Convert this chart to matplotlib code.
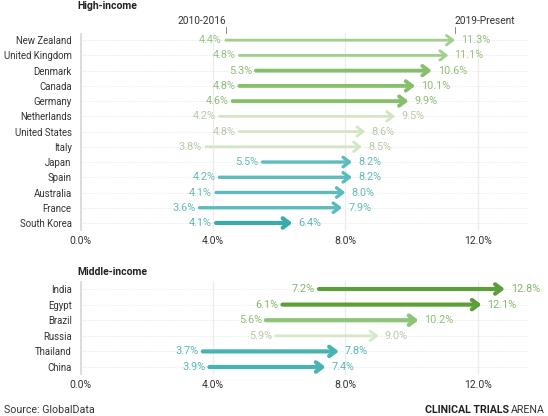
import matplotlib.pyplot as plt

plt.rcParams['font.family'] = ['Roboto', 'DejaVu Sans']

# High-income data
high_countries = ["New Zealand", "United Kingdom", "Denmark", "Canada", "Germany",
                  "Netherlands", "United States", "Italy", "Japan", "Spain",
                  "Australia", "France", "South Korea"]
high_start = [4.4, 4.8, 5.3, 4.8, 4.6, 4.2, 4.8, 3.8, 5.5, 4.2, 4.1, 3.6, 4.1]
high_end = [11.3, 11.1, 10.6, 10.1, 9.9, 9.5, 8.6, 8.5, 8.2, 8.2, 8.0, 7.9, 6.4]

# Middle-income data
mid_countries = ["India", "Egypt", "Brazil", "Russia", "Thailand", "China"]
mid_start = [7.2, 6.1, 5.6, 5.9, 3.7, 3.9]
mid_end = [12.8, 12.1, 10.2, 9.0, 7.8, 7.4]

xticks = [0, 4, 8, 12]
xticklabels = ["0.0%", "4.0%", "8.0%", "12.0%"]

# style per row: (line colour, text colour, line width)
MID_G = ("#a2ce8b", "#98c283", 2.0)
MID_G2 = ("#88bf6c", "#8fbd79", 2.8)
LIGHT_G = ("#d2e6c3", "#b9c9ab", 2.0)
TEAL = ("#5cbcbd", "#64b9bb", 2.4)
TEAL2 = ("#3aabab", "#5cb6b8", 3.0)
DARK_G = ("#5c9f39", "#84ba6c", 3.0)
BRAZIL = ("#8dc47a", "#8fbd79", 3.0)
LIGHT_G2 = ("#d5e9c8", "#b9c9ab", 2.0)
TEAL3 = ("#47b3b3", "#5cb6b8", 3.0)

high_styles = [MID_G, MID_G, MID_G2, MID_G2, MID_G2, LIGHT_G, LIGHT_G, LIGHT_G,
               TEAL, TEAL, TEAL, TEAL, TEAL2]
mid_styles = [DARK_G, DARK_G, BRAZIL, LIGHT_G2, TEAL3, TEAL3]

fig = plt.figure(figsize=(5.48, 4.16), dpi=100)
ax1 = fig.add_axes([0.146, 0.4457, 0.8175, 0.476])
ax2 = fig.add_axes([0.146, 0.099, 0.8175, 0.225])


def draw_panel(ax, countries, start, end, styles):
    n = len(countries)
    ys = list(range(n))[::-1]
    for y in ys:
        ax.axhline(y, color="#e6e6e6", lw=0.7, ls=(0, (1, 1.5)), zorder=0)
    for x in xticks[1:]:
        ax.axvline(x, color="#ececec", lw=0.9, zorder=0)
    ax.axvline(0, color="#dcdcdc", lw=2.2, zorder=0)

    for y, s, e, st in zip(ys, start, end, styles):
        lc, tc, lw = st
        ax.annotate("", xy=(e, y), xytext=(s, y),
                    arrowprops=dict(arrowstyle="->,head_length=0.45,head_width=0.34",
                                    color=lc, lw=lw, shrinkA=0, shrinkB=0,
                                    mutation_scale=10))
        ax.text(s - 0.12, y, f"{s:.1f}%", color=tc, fontsize=7.8,
                ha="right", va="center")
        ax.text(e + 0.18, y, f"{e:.1f}%", color=tc, fontsize=7.8,
                ha="left", va="center")

    ax.set_xlim(0, 13.5)
    ax.set_ylim(-0.5, n - 0.5)
    ax.set_yticks(ys)
    ax.set_yticklabels(countries)
    ax.set_xticks(xticks)
    ax.set_xticklabels(xticklabels)
    ax.tick_params(length=0, labelsize=7.5, colors="#333333")
    ax.tick_params(axis="y", labelsize=6.9, pad=6)
    ax.tick_params(axis="x", pad=4)
    for sp in ax.spines.values():
        sp.set_visible(False)


draw_panel(ax1, high_countries, high_start, high_end, high_styles)
draw_panel(ax2, mid_countries, mid_start, mid_end, mid_styles)

# period labels with small marker lines
top_y = len(high_countries) - 1
for xval, label, ha in [(high_start[0], "2010-2016", "right"),
                        (high_end[0], "2019-Present", "left")]:
    ax1.plot([xval, xval], [top_y + 0.45, top_y + 0.85], color="#777777", lw=0.6,
             clip_on=False)
    ax1.text(xval, top_y + 0.95, label, ha=ha, va="bottom", fontsize=7.3,
             color="#333333")

fig.text(77 / 548, 1 - 6 / 416, "High-income", fontsize=7.5, fontweight="bold",
         color="#222222", ha="left", va="center")
fig.text(77 / 548, 1 - 272 / 416, "Middle-income", fontsize=7.5, fontweight="bold",
         color="#222222", ha="left", va="center")

fig.text(4 / 548, 1 - 410 / 416, "Source: GlobalData", fontsize=7.7,
         color="#333333", ha="left", va="center")
t = fig.text(1 - 3 / 548, 1 - 410 / 416, "ARENA", fontsize=7.7,
             color="#333333", ha="right", va="center")
fig.canvas.draw()
bb = t.get_window_extent()
fig.text((bb.x0 - 2) / fig.bbox.width, 1 - 410 / 416, "CLINICAL TRIALS", fontsize=7.7,
         fontweight="bold", color="#222222", ha="right", va="center")

fig.savefig("out.png", dpi=100)
